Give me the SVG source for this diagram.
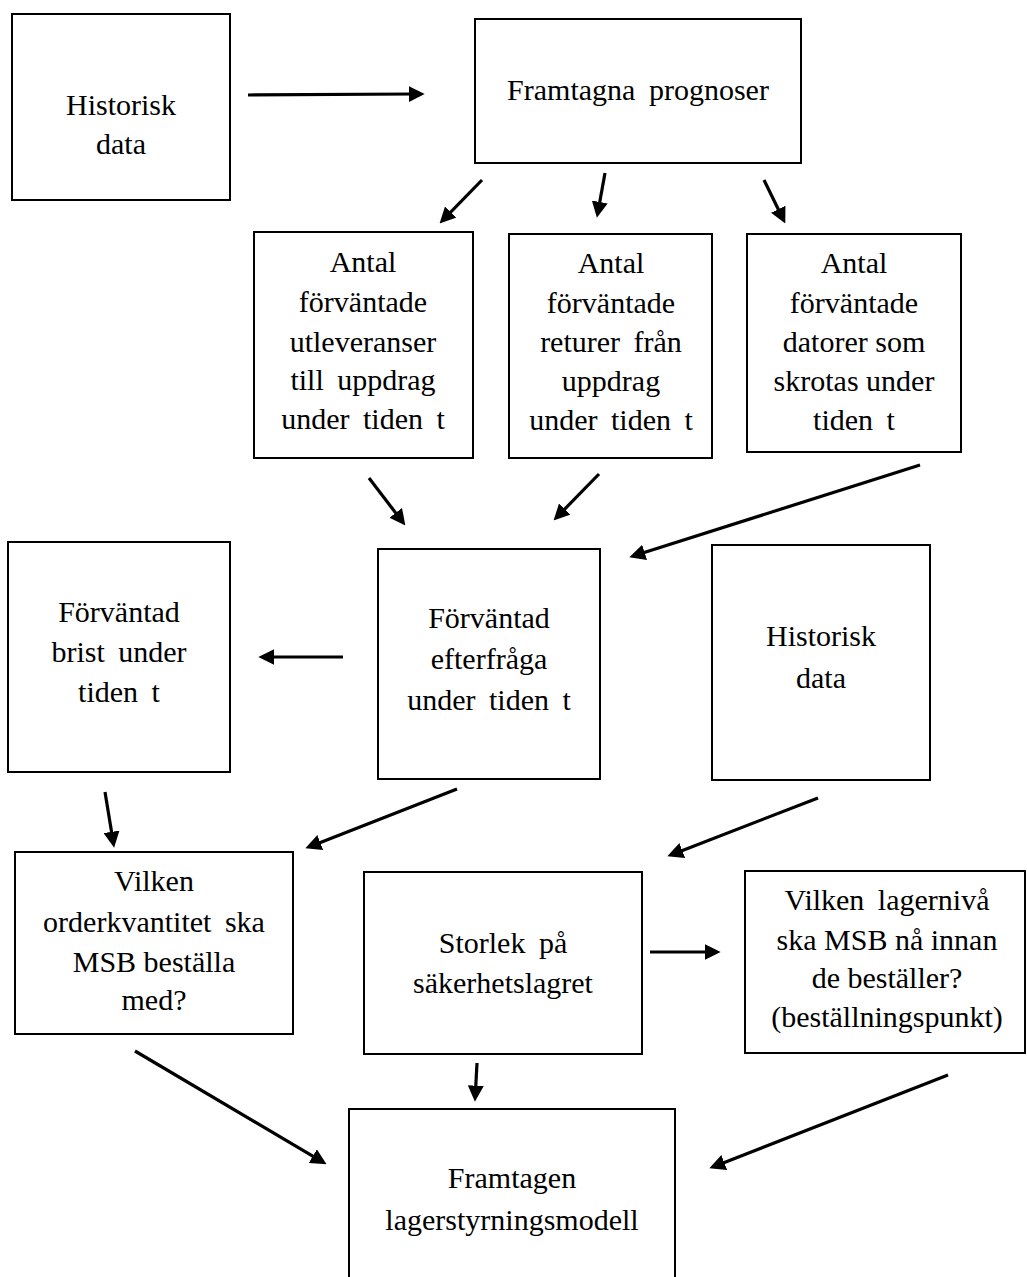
<svg xmlns="http://www.w3.org/2000/svg" width="1027" height="1277" viewBox="0 0 1027 1277">
<style>
.box{fill:#fff;stroke:#000;stroke-width:2}
text{font-family:"Liberation Serif","Times New Roman",serif;font-size:30px;fill:#000;text-anchor:middle}
.ws{word-spacing:6px}
.conn line{stroke:#000;stroke-width:3.2;fill:none;marker-end:url(#ah)}
</style>
<defs>
<marker id="ah" markerUnits="userSpaceOnUse" markerWidth="16" markerHeight="16" viewBox="0 0 15 15" refX="5" refY="7.5" orient="auto">
<path d="M0,0 L15,7.5 L0,15 z" fill="#000"/>
</marker>
</defs>
<rect width="1027" height="1277" fill="#fff"/>

<g id="historisk1"><rect class="box" x="12" y="14" width="218" height="186"/>
<text x="121" y="115">Historisk</text><text x="121" y="154">data</text></g>

<g id="framtagna-prognoser"><rect class="box" x="475" y="19" width="326" height="144"/>
<text class="ws" x="638" y="100">Framtagna prognoser</text></g>

<g id="antal-utleveranser"><rect class="box" x="254" y="232" width="219" height="226"/>
<text x="363" y="272">Antal</text><text x="363" y="312">förväntade</text><text x="363" y="352">utleveranser</text><text class="ws" x="363" y="390">till uppdrag</text><text class="ws" x="363" y="429">under tiden t</text></g>

<g id="antal-returer"><rect class="box" x="509" y="234" width="203" height="224"/>
<text x="611" y="273">Antal</text><text x="611" y="313">förväntade</text><text class="ws" x="611" y="352">returer från</text><text x="611" y="391">uppdrag</text><text class="ws" x="611" y="430">under tiden t</text></g>

<g id="antal-skrotas"><rect class="box" x="747" y="234" width="214" height="218"/>
<text x="854" y="273">Antal</text><text x="854" y="313">förväntade</text><text x="854" y="352">datorer som</text><text x="854" y="391">skrotas under</text><text class="ws" x="854" y="430">tiden t</text></g>

<g id="forvantad-brist"><rect class="box" x="8" y="542" width="222" height="230"/>
<text x="119" y="622">Förväntad</text><text class="ws" x="119" y="662">brist under</text><text class="ws" x="119" y="702">tiden t</text></g>

<g id="forvantad-efterfraga"><rect class="box" x="378" y="549" width="222" height="230"/>
<text x="489" y="628">Förväntad</text><text x="489" y="669">efterfråga</text><text class="ws" x="489" y="710">under tiden t</text></g>

<g id="historisk2"><rect class="box" x="712" y="545" width="218" height="235"/>
<text x="821" y="646">Historisk</text><text x="821" y="688">data</text></g>

<g id="orderkvantitet"><rect class="box" x="15" y="852" width="278" height="182"/>
<text x="154" y="891">Vilken</text><text class="ws" x="154" y="932">orderkvantitet ska</text><text x="154" y="972">MSB beställa</text><text x="154" y="1010">med?</text></g>

<g id="sakerhetslager"><rect class="box" x="364" y="872" width="278" height="182"/>
<text class="ws" x="503" y="953">Storlek på</text><text x="503" y="993">säkerhetslagret</text></g>

<g id="bestallningspunkt"><rect class="box" x="745" y="871" width="280" height="182"/>
<text class="ws" x="887" y="910">Vilken lagernivå</text><text x="887" y="950">ska MSB nå innan</text><text x="887" y="988">de beställer?</text><text x="887" y="1027">(beställningspunkt)</text></g>

<g id="lagerstyrningsmodell"><rect class="box" x="349" y="1109" width="326" height="190"/>
<text x="512" y="1188">Framtagen</text><text x="512" y="1230">lagerstyrningsmodell</text></g>

<g id="connectors" class="conn">
<line x1="248" y1="95" x2="414" y2="94"/>
<line x1="482" y1="180" x2="447" y2="215.9"/>
<line x1="605" y1="173" x2="598.8" y2="207.2"/>
<line x1="764" y1="180" x2="780.6" y2="214"/>
<line x1="369" y1="478" x2="398.9" y2="517.1"/>
<line x1="599" y1="474" x2="561" y2="512.9"/>
<line x1="920" y1="465" x2="639.5" y2="554"/>
<line x1="343" y1="657" x2="269" y2="657"/>
<line x1="105" y1="792" x2="112.4" y2="837.1"/>
<line x1="457" y1="789" x2="315.3" y2="844.4"/>
<line x1="818" y1="798" x2="677.3" y2="852.4"/>
<line x1="650" y1="952" x2="710" y2="952"/>
<line x1="477" y1="1063" x2="475.5" y2="1091"/>
<line x1="135" y1="1051" x2="317.4" y2="1158.9"/>
<line x1="948" y1="1075" x2="719.3" y2="1164.4"/>
</g>
</svg>
